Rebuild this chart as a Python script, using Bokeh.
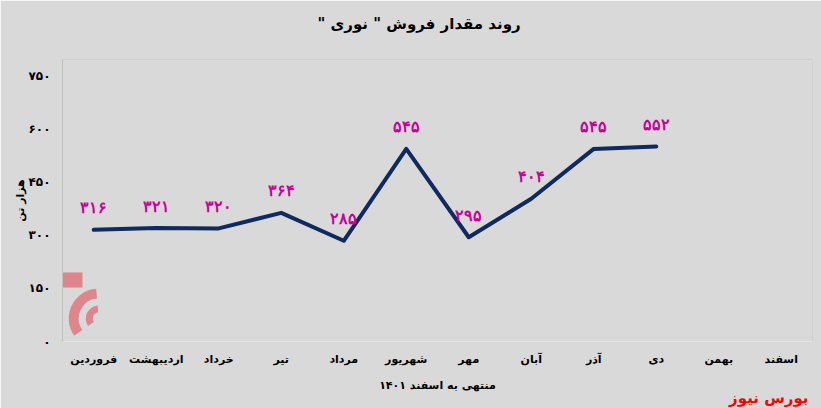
import math
from bokeh.plotting import figure
from bokeh.models import (ColumnDataSource, FactorRange, Range1d, FixedTicker,
                          LabelSet, Span, Title)
from bokeh.embed import file_html
from bokeh.resources import INLINE

# ---- data ----
months = ["فروردین", "اردیبهشت", "خرداد", "تیر", "مرداد", "شهریور",
          "مهر", "آبان", "آذر", "دی", "بهمن", "اسفند"]
sales = [316, 321, 320, 364, 285, 545, 295, 404, 545, 552]
y_ticks = [0, 150, 300, 450, 600, 750]
title_text = 'روند مقدار فروش " نوری "'
y_title = "هزار تن"
x_title = "منتهی به اسفند ۱۴۰۱"
brand = "بورس نیوز"

FA = str.maketrans("0123456789", "۰۱۲۳۴۵۶۷۸۹")
def fa(n):
    return str(n).translate(FA)

RLM = "\u200f"

src = ColumnDataSource(dict(month=months[:len(sales)], val=sales,
                            lab=[fa(v) for v in sales]))

FONT = "DejaVu Sans"
BG = "#d9d9d9"
YMAX = 798

p = figure(width=821, height=408, x_range=FactorRange(*months, range_padding=0),
           y_range=Range1d(0, YMAX), output_backend="svg", toolbar_location=None,
           background_fill_color=BG, border_fill_color=BG,
           min_border_left=62, min_border_right=9, min_border_top=59,
           min_border_bottom=67)
p.outline_line_color = None
p.xgrid.grid_line_color = None
p.ygrid.grid_line_color = None

# spacer between plot area and title, then the title
p.add_layout(Title(text=" ", text_font_size="1px", standoff=19), "above")
p.add_layout(Title(text=RLM + title_text + RLM, align="left", offset=255, standoff=10,
                   text_font=FONT, text_font_style="bold", text_font_size="15px",
                   text_color="#000000"), "above")

# axes
p.yaxis.ticker = FixedTicker(ticks=y_ticks)
p.yaxis.major_label_overrides = {t: fa(t) for t in y_ticks}
p.yaxis.axis_line_color = "#bfbfbf"
p.yaxis.major_tick_line_color = None
p.yaxis.minor_tick_line_color = None
p.yaxis.major_tick_out = 0
p.yaxis.major_tick_in = 0
p.yaxis.major_label_standoff = 12
p.yaxis.major_label_text_font = FONT
p.yaxis.major_label_text_font_style = "bold"
p.yaxis.major_label_text_font_size = "12px"
p.yaxis.major_label_text_color = "#000000"
p.yaxis.axis_label = y_title
p.yaxis.axis_label_standoff = -1
p.yaxis.axis_label_text_font = FONT
p.yaxis.axis_label_text_font_style = "bold"
p.yaxis.axis_label_text_font_size = "11px"
p.yaxis.axis_label_text_color = "#000000"

p.xaxis.axis_line_color = None
p.xaxis.major_tick_line_color = None
p.xaxis.major_tick_out = 0
p.xaxis.major_tick_in = 0
p.xaxis.major_label_standoff = 11
p.xaxis.major_label_text_font = FONT
p.xaxis.major_label_text_font_style = "bold"
p.xaxis.major_label_text_font_size = "11px"
p.xaxis.major_label_text_color = "#000000"
p.xaxis.axis_label = x_title
p.xaxis.axis_label_standoff = 10
p.xaxis.axis_label_text_font = FONT
p.xaxis.axis_label_text_font_style = "bold"
p.xaxis.axis_label_text_font_size = "11px"
p.xaxis.axis_label_text_color = "#000000"

# brand line below
p.add_layout(Title(text=brand, align="right", offset=4, standoff=-12,
                   vertical_align="top",
                   text_font=FONT, text_font_style="bold", text_font_size="15px",
                   text_color="#ff0000"), "below")

# frame borders (top and right)
p.add_layout(Span(location=YMAX, dimension="width", line_color="#bfbfbf", line_width=1))
p.add_layout(Span(location=len(months), dimension="height", line_color="#bfbfbf", line_width=1))

# watermark logo (visible part inside the plot area)
WM = "#e06a72"
p.quad(left=0, right=0.32, bottom=153, top=195, fill_color=WM,
       fill_alpha=0.75, line_color=None, level="underlay")
for r_in, r_out in [(20, 30), (6, 13)]:
    p.annular_wedge(x=0.58, y=65, inner_radius=r_in, outer_radius=r_out,
                    inner_radius_units="screen", outer_radius_units="screen",
                    start_angle=math.radians(95), end_angle=math.radians(215),
                    fill_color=WM, fill_alpha=0.75, line_color=None, level="underlay")

# line
p.line("month", "val", source=src, line_color="#0f2a5e", line_width=4,
       line_join="round", line_cap="round")

# data labels
p.add_layout(LabelSet(x="month", y="val", text="lab", source=src, y_offset=22,
                      text_align="center", text_baseline="middle",
                      text_font=FONT, text_font_style="bold", text_font_size="16px",
                      text_color="#cc0099"))

open("out.html", "w").write(file_html(p, INLINE))
